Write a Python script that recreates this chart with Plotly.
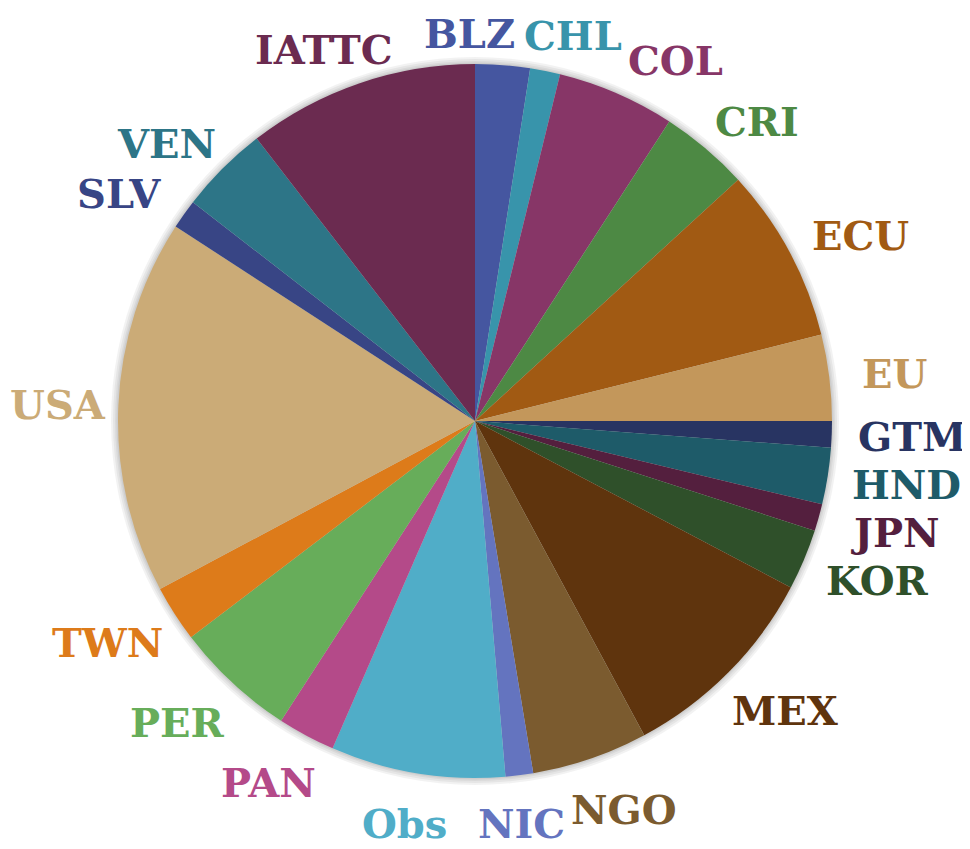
import math
import plotly.graph_objects as go

# pie of delegations (in percent)
labels = ['BLZ', 'CHL', 'COL', 'CRI', 'ECU', 'EU', 'GTM', 'HND', 'JPN', 'KOR', 'MEX',
          'NGO', 'NIC', 'Obs', 'PAN', 'PER', 'TWN', 'USA', 'SLV', 'VEN', 'IATTC']
values = [2.47, 1.36, 5.33, 4.03, 7.92, 3.89, 1.19, 2.56, 1.22, 2.75, 9.42,
          5.25, 1.25, 7.89, 2.61, 5.5, 2.56, 16.97, 1.33, 4.03, 10.47]
colors = ['#4556a0', '#3894ab', '#873667', '#4d8944', '#a15a13', '#c3975b', '#283462',
          '#1e5b69', '#541f3e', '#2f502a', '#5f340d', '#7b5b2f', '#6474bf', '#50adc8',
          '#b44a89', '#67ad5a', '#dd7b1a', '#cbab77', '#384585', '#2d7587', '#6b2b50']

W, H = 970, 849
OFF = 8                      # page body margin
cx, cy, R = 475 - OFF, 421 - OFF, 357   # figure pixels
FS = 40


def dom(r):
    return dict(x=[(cx - r) / W, (cx + r) / W], y=[1 - (cy + r) / H, 1 - (cy - r) / H])


fig = go.Figure()

# soft shadow: a few slightly larger grey discs under the pie
for grow in [7, 5, 3, 1.5]:
    fig.add_trace(go.Pie(
        values=[1], marker=dict(colors=['rgba(0,0,0,0.05)']),
        textinfo='none', hoverinfo='skip', showlegend=False, sort=False,
        domain=dom(R + grow),
    ))

fig.add_trace(go.Pie(
    labels=labels, values=values, sort=False, direction='clockwise', rotation=0,
    marker=dict(colors=colors, line=dict(width=0)),
    textinfo='none', showlegend=False, domain=dom(R),
))

# outside labels: anchored just beyond the rim at each slice's middle angle
total = sum(values)
acc = 0
boxes = []
for lab, v in zip(labels, values):
    a = (acc + v / 2) / total * 2 * math.pi
    acc += v
    s, c = math.sin(a), -math.cos(a)
    w = 0.74 * FS * len(lab)
    h = 36
    r0 = R * 1.10
    x = cx + r0 * s + w / 2 * s
    y = cy + r0 * c + (h / 2 * c if c > 0 else 0)
    boxes.append([x, y, w, h, abs(c) > 0.7])

# push overlapping labels apart (sideways near top/bottom, vertically at the sides)
GAP = 14
for _ in range(300):
    moved = False
    for i in range(len(boxes)):
        for j in range(i + 1, len(boxes)):
            bi, bj = boxes[i], boxes[j]
            ox = (bi[2] + bj[2]) / 2 + GAP - abs(bi[0] - bj[0])
            oy = (bi[3] + bj[3]) / 2 + 4 - abs(bi[1] - bj[1])
            if ox > 0 and oy > 0:
                moved = True
                if bi[4] and bj[4]:
                    d = 1 if bj[0] >= bi[0] else -1
                    bi[0] -= d * ox / 2
                    bj[0] += d * ox / 2
                else:
                    d = 1 if bj[1] >= bi[1] else -1
                    bi[1] -= d * oy / 2
                    bj[1] += d * oy / 2
    if not moved:
        break

for lab, col, b in zip(labels, colors, boxes):
    x = min(max(b[0], b[2] / 2 + 6), W - OFF - b[2] / 2 - 2)
    y = min(max(b[1], 34 - OFF), H - 26 - OFF)
    fig.add_annotation(
        x=x / W, y=1 - y / H, xref='paper', yref='paper', text=lab, showarrow=False,
        xanchor='center', yanchor='middle',
        font=dict(family='DejaVu Serif', size=FS, color=col, weight='bold'),
    )

fig.update_layout(
    width=W, height=H, margin=dict(l=0, r=0, t=0, b=0),
    paper_bgcolor='white', plot_bgcolor='white',
)
fig.write_html('out.html')
